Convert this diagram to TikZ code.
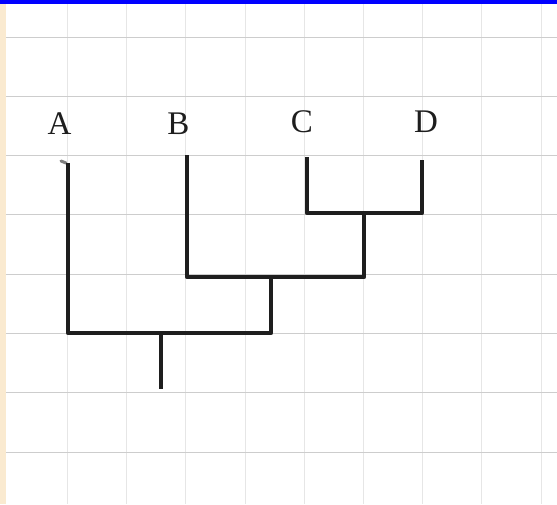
\documentclass[tikz,border=0pt]{standalone}
\usepackage{fontspec}
\setmainfont{Liberation Serif}
\definecolor{barblue}{RGB}{0,0,255}
\definecolor{paperedge}{RGB}{250,234,208}
\definecolor{gridh}{RGB}{205,205,205}
\definecolor{gridv}{RGB}{230,230,230}
\definecolor{ink}{RGB}{30,30,30}
\tikzset{
  treeline/.style={draw=ink, line width=4.5pt, line join=round, line cap=butt},
  taxon/.style={inner sep=0pt, font=\fontsize{33}{33}\selectfont, text=ink},
}
\begin{document}
\begin{tikzpicture}[x=1pt,y=-1pt]
\useasboundingbox (0,0) rectangle (557,504);
\fill[white] (0,0) rectangle (557,504);
% grid paper
\foreach \gx in {67.5,126.7,185.9,245.1,304.3,363.5,422.7,481.9,541.1}
  \draw[gridv, line width=0.9pt] (\gx,4) -- (\gx,504);
\foreach \gy in {37,96.3,155.6,214.9,274.2,333.5,392.8,452.1}
  \draw[gridh, line width=1pt] (6,\gy) -- (557,\gy);
% paper edge and top bar
\fill[paperedge] (0,0) rectangle (6,504);
\fill[barblue] (0,0) rectangle (557,4);
% labels
\node[taxon] (lA) at (59.5,124) {A};
\node[taxon] (lB) at (178.5,124) {B};
\node[taxon] (lC) at (302,122) {C};
\node[taxon] (lD) at (426,122) {D};
% tree points
\coordinate (a) at (68,163);
\coordinate (b) at (187,155);
\coordinate (c) at (307,157);
\coordinate (d) at (422,160);
\coordinate (cdL) at (307,213);
\coordinate (cdR) at (422,213);
\coordinate (cdM) at (364,213);
\coordinate (bR) at (364,277);
\coordinate (bM) at (271,277);
\coordinate (aR) at (271,333);
\coordinate (root) at (161,335);
\coordinate (rootend) at (161,389);
% pen blob at top of A
\draw[gray, line width=3pt, line cap=round] (61,161) -- (66,163);
% tree
\draw[treeline] (a) |- (aR) -- (bM);
\draw[treeline] (b) |- (bR) -- (cdM);
\draw[treeline] (c) -- (cdL) -- (cdR) -- (d);
\draw[treeline] (root) -- (rootend);
\end{tikzpicture}
\end{document}
